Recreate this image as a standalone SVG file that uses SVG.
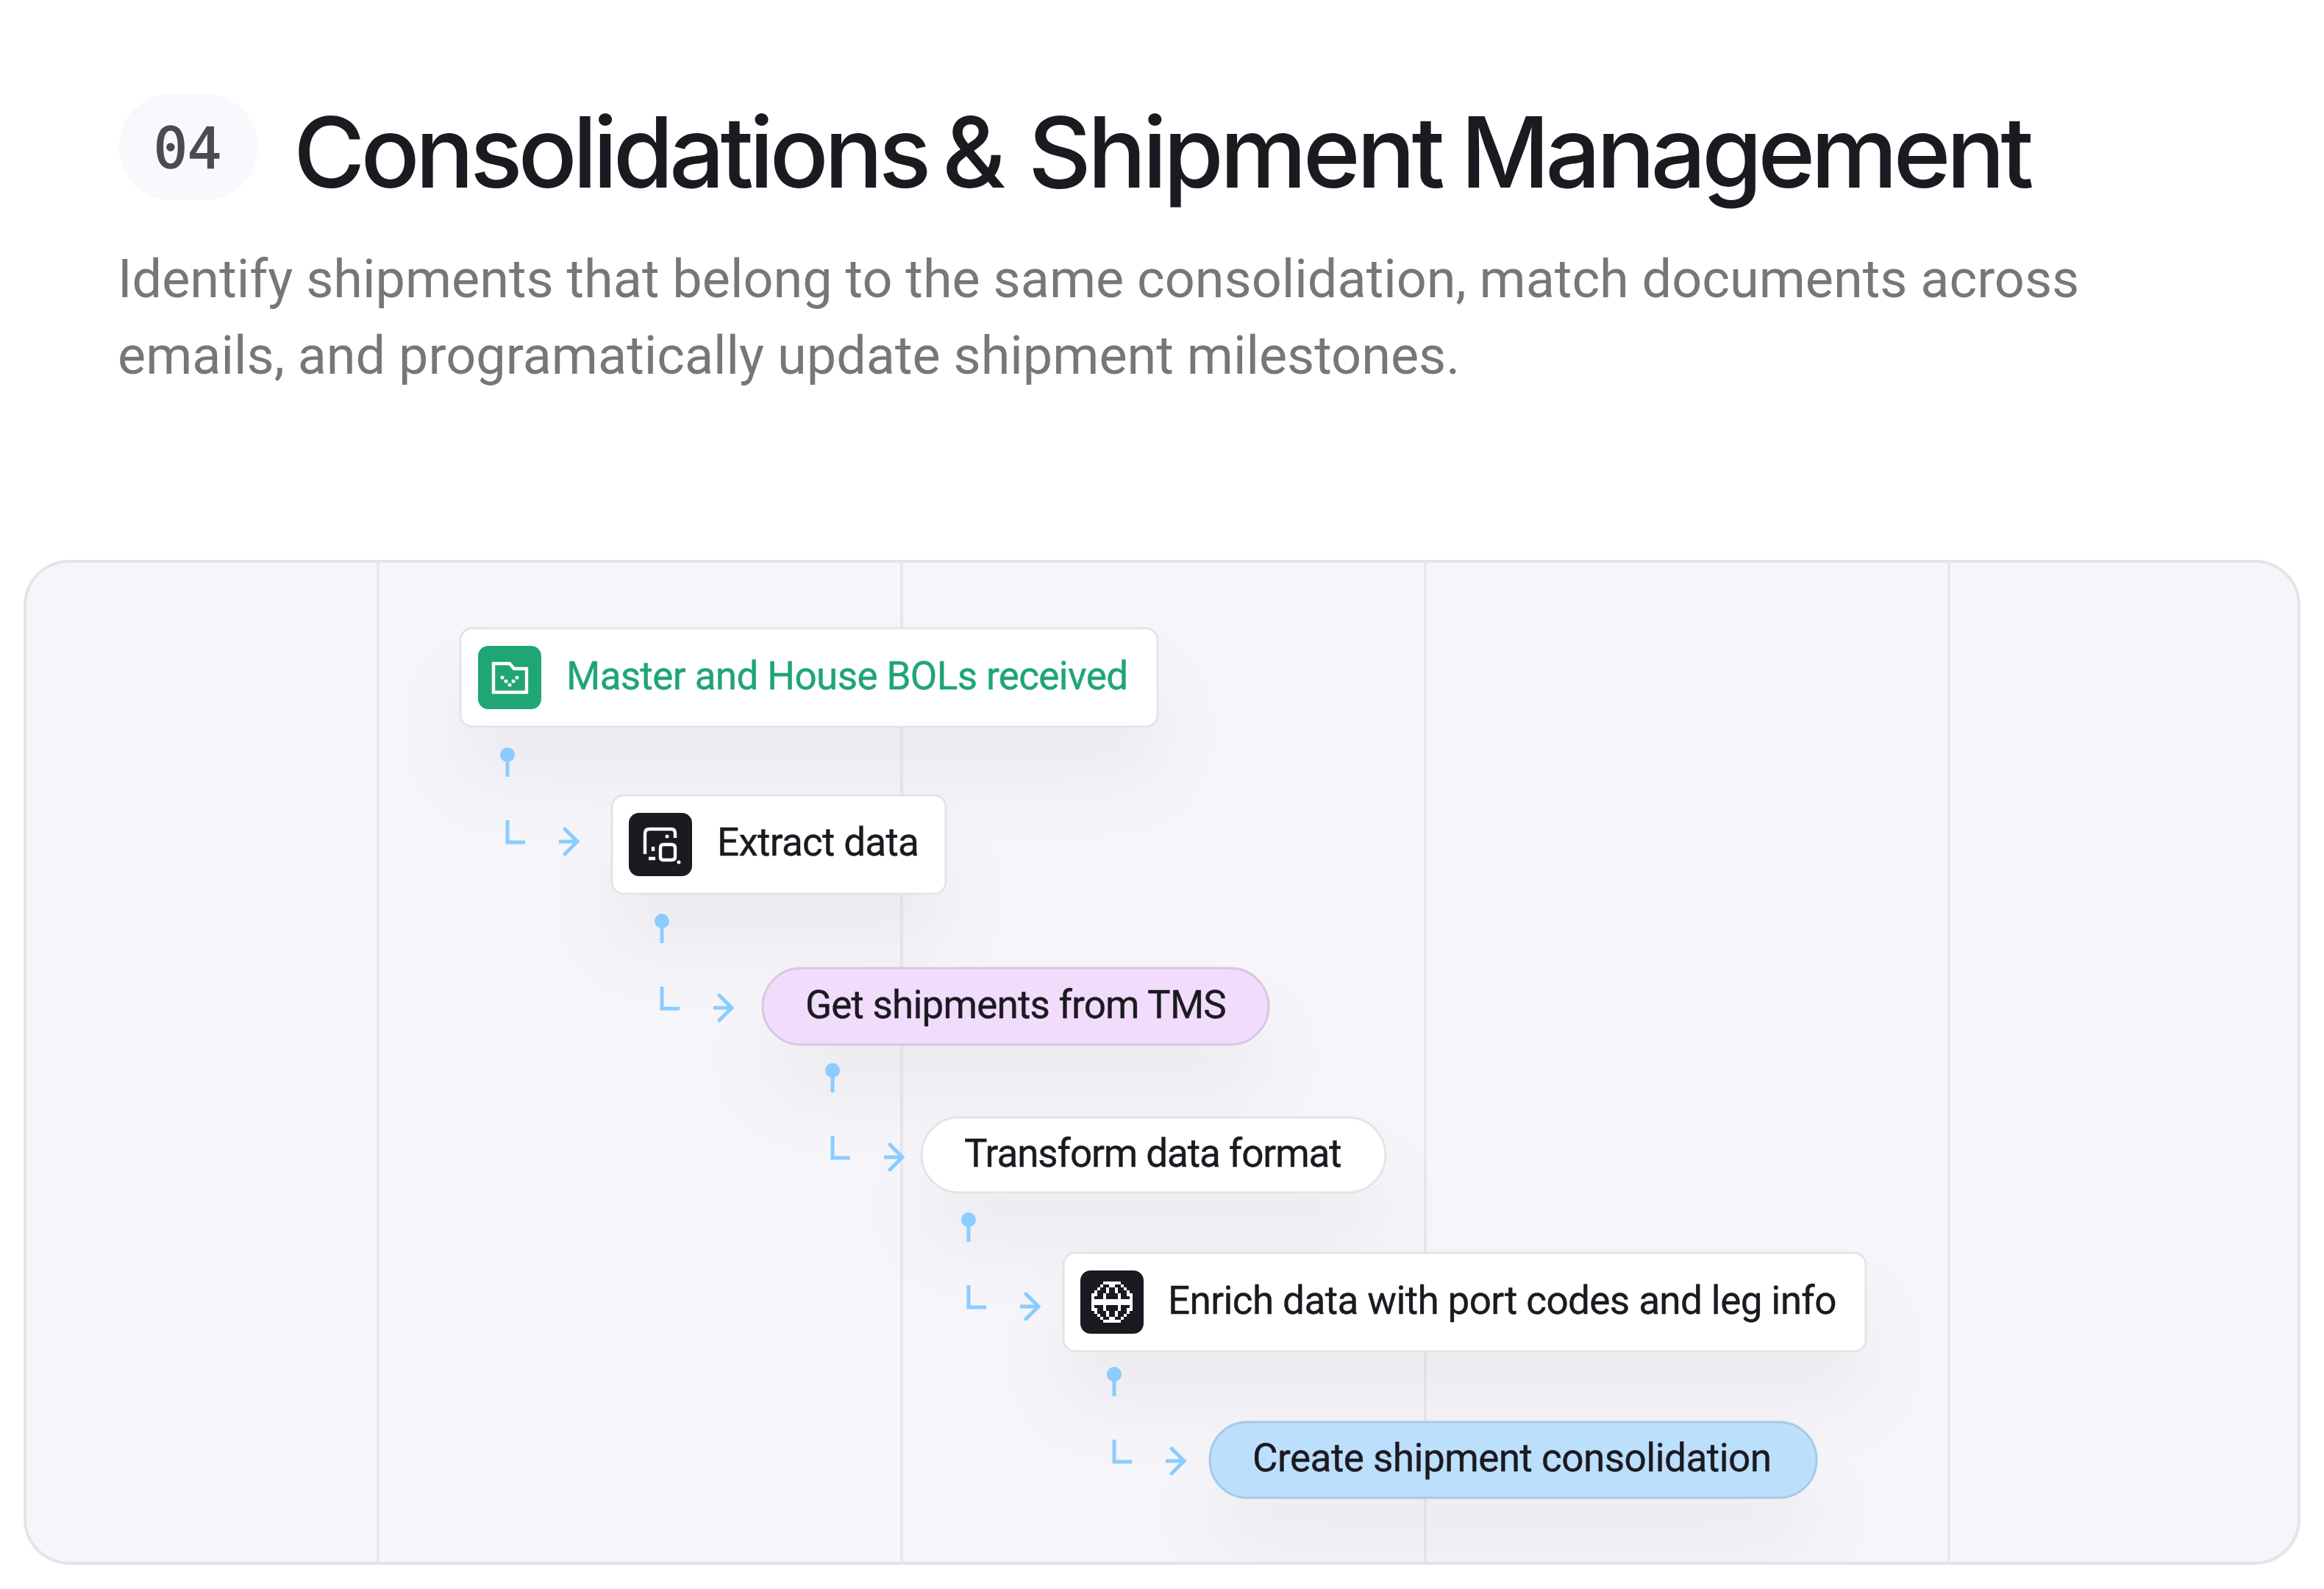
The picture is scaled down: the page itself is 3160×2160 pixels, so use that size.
<svg xmlns="http://www.w3.org/2000/svg" width="3160" height="2160" viewBox="0 0 3160 2160">
<defs>
<filter id="sh" x="-40%" y="-100%" width="180%" height="400%"><feDropShadow dx="0" dy="70" stdDeviation="50" flood-color="#1b1a20" flood-opacity="0.045"/></filter>
<clipPath id="panelclip"><rect x="34" y="763" width="3092" height="1362" rx="60"/></clipPath>
<g id="link">
<circle cx="0" cy="0" r="10" fill="#8accff"/>
<path class="conn" d="M0 0V30M0 89V119H24"/>
<path class="conn" d="M70 118H94"/>
<path class="conn cap" d="M78 101L95 118L78 135"/>
</g>
</defs>
<style>
text{font-family:Roboto,"Liberation Sans",sans-serif}
.lbl{font-size:53px;fill:#1b1a20;stroke:#1b1a20;stroke-width:0.4}
.ic{fill:#1b1a20}
.conn{fill:none;stroke:#8accff;stroke-width:5}
.cap{stroke-linecap:round}
.card{fill:#fff;stroke:#e4e3e8;stroke-width:3}
.glyph{fill:none;stroke:#fff;stroke-width:4.4}
.dot{fill:#fff}
</style>
<rect width="3160" height="2160" fill="#fff"/>
<rect x="162" y="128" width="188" height="144" rx="70" fill="#faf8fc"/>
<text x="255" y="228" text-anchor="middle" style="font-family:'DejaVu Sans Mono',monospace;font-size:77px" fill="#4d4b50" stroke="#4d4b50" stroke-width="1.5">04</text>
<text y="255" style="font-family:Inter,sans-serif" font-size="133" font-weight="500" fill="#1b1a20"><tspan x="399" letter-spacing="-6">Consolidations</tspan><tspan x="1281" letter-spacing="-5">&amp;</tspan><tspan x="1398" letter-spacing="-5.2">Shipment</tspan><tspan x="1986" letter-spacing="-6.1">Management</tspan></text>
<text x="160" y="404" font-size="72" fill="#77767b">Identify shipments that belong to the same consolidation, match documents across</text>
<text x="160" y="508" font-size="72" fill="#77767b">emails, and programatically update shipment milestones.</text>
<g id="panel">
<rect x="34" y="763" width="3092" height="1362" rx="60" fill="#f6f5fa" stroke="#e4e3e8" stroke-width="4"/>
<path d="M514 763V2125M1226 763V2125M1938 763V2125M2650 763V2125" stroke="#e8e7ec" stroke-width="4" fill="none"/>
</g>
<g clip-path="url(#panelclip)">
<g id="n1"><rect class="card" filter="url(#sh)" x="626" y="854" width="948" height="134" rx="16"/><rect x="650" y="878" width="86" height="86" rx="14" fill="#20a574"/>
<g transform="translate(650 878)"><path class="glyph" d="M21 24H43L49 31H66V63H21Z"/><g class="dot"><circle cx="33" cy="43" r="2.5"/><circle cx="38" cy="48" r="2.5"/><circle cx="43" cy="53" r="2.5"/><circle cx="48" cy="48" r="2.5"/><circle cx="53" cy="43" r="2.5"/></g></g>
<text x="770" y="937" class="lbl" letter-spacing="-0.62" style="fill:#20a574;stroke:#20a574">Master and House BOLs received</text></g>
<g id="n2"><rect class="card" filter="url(#sh)" x="832" y="1081" width="454" height="134" rx="16"/><rect class="ic" x="855" y="1105" width="86" height="86" rx="14"/>
<g transform="translate(855 1105)"><path class="glyph" d="M22 56V28Q22 22 28 22H58Q63 22 63 28V34M27 62H36M33 46V52M47 43H58Q63 43 63 48V60Q63 64 58 64H47Q43 64 43 60V48Q43 43 47 43Z"/><circle class="dot" cx="52" cy="32" r="2.5"/><circle class="dot" cx="68" cy="67" r="2.5"/></g>
<text x="975" y="1163" class="lbl" letter-spacing="-0.7">Extract data</text></g>
<g id="n3"><rect filter="url(#sh)" x="1037" y="1316" width="688" height="104" rx="52" fill="#f1dcfb" stroke="#dcc4e6" stroke-width="3"/><text x="1095" y="1384" class="lbl" letter-spacing="-0.8">Get shipments from TMS</text></g>
<g id="n4"><rect class="card" filter="url(#sh)" x="1253" y="1519" width="631" height="102" rx="51"/><text x="1311" y="1586" class="lbl" letter-spacing="-1.1">Transform data format</text></g>
<g id="n5"><rect class="card" filter="url(#sh)" x="1446" y="1703" width="1091" height="134" rx="16"/><rect class="ic" x="1469" y="1727" width="86" height="86" rx="14"/>
<g transform="translate(1469 1727)"><path class="glyph" style="stroke-width:4" d="M31 17H55M27 21H31M39 21H47M55 21H59M23 25H27M35 25H39M47 25H51M59 25H63M19 29H23M35 29H39M47 29H51M63 29H67M15 33H23M31 33H35M51 33H55M63 33H71M15 37H19M31 37H35M51 37H55M67 37H71M15 41H71M15 45H71M15 49H19M31 49H35M51 49H55M67 49H71M15 53H23M31 53H35M51 53H55M63 53H71M19 57H23M35 57H39M47 57H51M63 57H67M23 61H27M35 61H39M47 61H51M59 61H63M27 65H31M39 65H47M55 65H59M31 69H55"/></g>
<text x="1588" y="1786" class="lbl" letter-spacing="-0.6">Enrich data with port codes and leg info</text></g>
<g id="n6"><rect filter="url(#sh)" x="1645" y="1933" width="825" height="103" rx="51" fill="#bcdffc" stroke="#a7c9e6" stroke-width="3"/><text x="1703" y="2000" class="lbl" letter-spacing="-0.5">Create shipment consolidation</text></g>
</g>
<g id="connectors">
<use href="#link" x="690" y="1026"/>
<use href="#link" x="900" y="1252"/>
<use href="#link" x="1132" y="1455"/>
<use href="#link" x="1317" y="1658"/>
<use href="#link" x="1515" y="1868"/>
</g>
</svg>
